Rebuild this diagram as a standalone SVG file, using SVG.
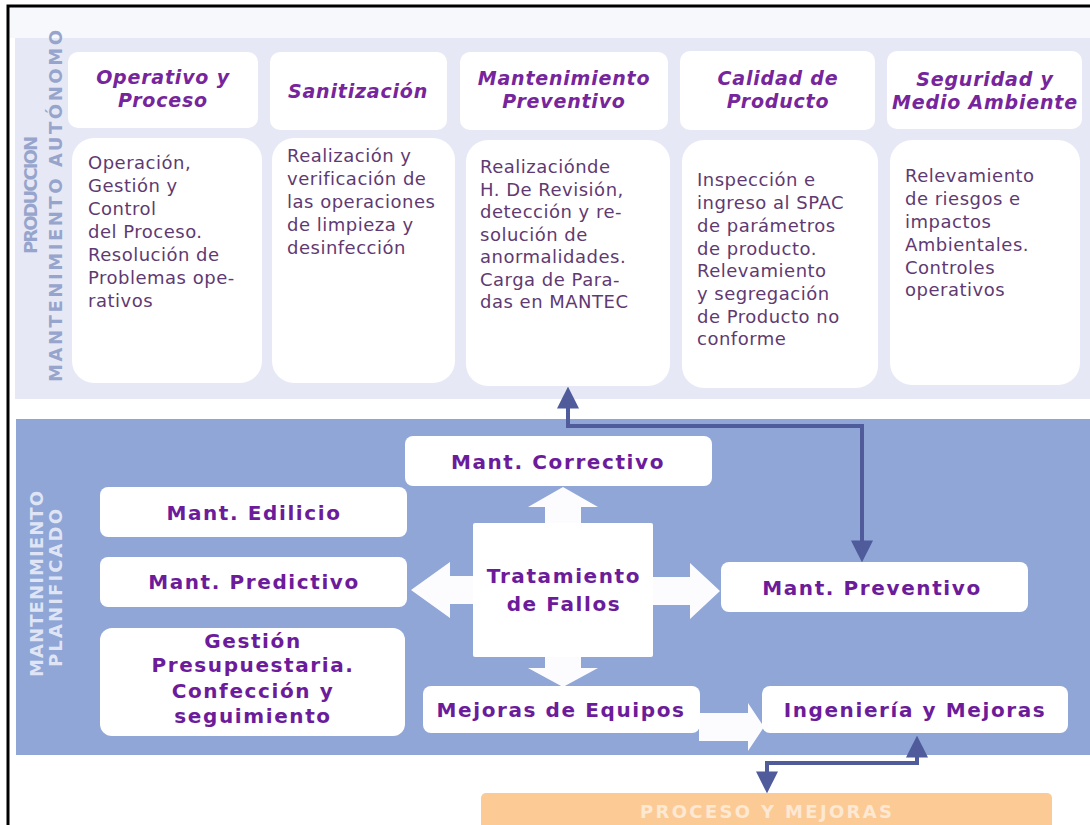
<svg xmlns="http://www.w3.org/2000/svg" width="1090" height="825" viewBox="0 0 1090 825">
<defs>
<style>
.card{fill:#ffffff}
.ht{font-family:"DejaVu Sans",Verdana,sans-serif;font-weight:bold;font-style:italic;font-size:19px;fill:#76259c;text-anchor:middle;letter-spacing:0.8px}
.bt{font-family:"DejaVu Sans",Verdana,sans-serif;font-size:18px;fill:#5f3a72;letter-spacing:0.5px}
.bl{font-family:"DejaVu Sans",Verdana,sans-serif;font-weight:bold;font-size:20px;fill:#6c1c9a;text-anchor:middle;letter-spacing:1.6px}
.vt{font-family:"DejaVu Sans",Verdana,sans-serif;font-weight:bold;font-size:18px;text-anchor:middle}
.conn{fill:none;stroke:#4f5b9b;stroke-width:4;marker-start:url(#ah);marker-end:url(#ah)}
.wa{fill:#fcfcff}
</style>
<marker id="ah" viewBox="0 0 10 10" refX="8" refY="5" markerWidth="5.5" markerHeight="5.5" orient="auto-start-reverse" markerUnits="strokeWidth">
<path d="M0,0 L10,5 L0,10 z" fill="#4f5b9b"/>
</marker>
</defs>

<rect x="0" y="0" width="1090" height="825" fill="#ffffff"/>
<rect x="9" y="7" width="1081" height="31" fill="#f7f8fc"/>
<rect x="15" y="38" width="1075" height="361" fill="#e6e9f5"/>
<rect x="16" y="419" width="1074" height="336" fill="#8fa6d6"/>
<path d="M8 825 V6 H1090" fill="none" stroke="#000" stroke-width="3"/>

<g id="label-produccion">
<text class="vt" fill="#97a4cc" font-size="19" transform="translate(37,195) rotate(-90)" textLength="118" lengthAdjust="spacing">PRODUCCION</text>
<text class="vt" fill="#97a4cc" font-size="19" transform="translate(62,206) rotate(-90)" textLength="352" lengthAdjust="spacing">MANTENIMIENTO AUTÓNOMO</text>
</g>
<g id="label-planificado">
<text class="vt" fill="#dfe5f5" font-size="18" transform="translate(43,584) rotate(-90)" textLength="186" lengthAdjust="spacing">MANTENIMIENTO</text>
<text class="vt" fill="#dfe5f5" font-size="18" transform="translate(62,588) rotate(-90)" textLength="158" lengthAdjust="spacing">PLANIFICADO</text>
</g>

<g id="h-operativo">
<rect class="card" x="68" y="52" width="190" height="76" rx="10"/>
<text class="ht" x="163" y="84">Operativo y</text>
<text class="ht" x="163" y="107">Proceso</text>
</g>
<g id="h-sanitizacion">
<rect class="card" x="270" y="52" width="177" height="78" rx="10"/>
<text class="ht" x="358" y="98">Sanitización</text>
</g>
<g id="h-mantprev">
<rect class="card" x="460" y="52" width="208" height="78" rx="10"/>
<text class="ht" x="564" y="85">Mantenimiento</text>
<text class="ht" x="564" y="108">Preventivo</text>
</g>
<g id="h-calidad">
<rect class="card" x="680" y="51" width="195" height="79" rx="10"/>
<text class="ht" x="778" y="85">Calidad de</text>
<text class="ht" x="778" y="108">Producto</text>
</g>
<g id="h-seguridad">
<rect class="card" x="887" y="51" width="195" height="78" rx="10"/>
<text class="ht" x="985" y="86">Seguridad y</text>
<text class="ht" x="985" y="109">Medio Ambiente</text>
</g>

<g id="c-operativo">
<rect class="card" x="72" y="138" width="190" height="245" rx="22"/>
<text class="bt" x="88" y="169">Operación,</text>
<text class="bt" x="88" y="192">Gestión y</text>
<text class="bt" x="88" y="215">Control</text>
<text class="bt" x="88" y="238">del Proceso.</text>
<text class="bt" x="88" y="261">Resolución de</text>
<text class="bt" x="88" y="284">Problemas ope-</text>
<text class="bt" x="88" y="307">rativos</text>
</g>
<g id="c-sanitizacion">
<rect class="card" x="272" y="138" width="183" height="245" rx="22"/>
<text class="bt" x="287" y="162">Realización y</text>
<text class="bt" x="287" y="185">verificación de</text>
<text class="bt" x="287" y="208">las operaciones</text>
<text class="bt" x="287" y="231">de limpieza y</text>
<text class="bt" x="287" y="254">desinfección</text>
</g>
<g id="c-mantprev">
<rect class="card" x="466" y="140" width="204" height="246" rx="22"/>
<text class="bt" x="480" y="173">Realizaciónde</text>
<text class="bt" x="480" y="196">H. De Revisión,</text>
<text class="bt" x="480" y="218">detección y re-</text>
<text class="bt" x="480" y="241">solución de</text>
<text class="bt" x="480" y="263">anormalidades.</text>
<text class="bt" x="480" y="286">Carga de Para-</text>
<text class="bt" x="480" y="308">das en MANTEC</text>
</g>
<g id="c-calidad">
<rect class="card" x="682" y="140" width="196" height="248" rx="22"/>
<text class="bt" x="697" y="186">Inspección e</text>
<text class="bt" x="697" y="209">ingreso al SPAC</text>
<text class="bt" x="697" y="232">de parámetros</text>
<text class="bt" x="697" y="255">de producto.</text>
<text class="bt" x="697" y="277">Relevamiento</text>
<text class="bt" x="697" y="300">y segregación</text>
<text class="bt" x="697" y="323">de Producto no</text>
<text class="bt" x="697" y="345">conforme</text>
</g>
<g id="c-seguridad">
<rect class="card" x="890" y="140" width="190" height="245" rx="22"/>
<text class="bt" x="905" y="182">Relevamiento</text>
<text class="bt" x="905" y="205">de riesgos e</text>
<text class="bt" x="905" y="228">impactos</text>
<text class="bt" x="905" y="251">Ambientales.</text>
<text class="bt" x="905" y="274">Controles</text>
<text class="bt" x="905" y="296">operativos</text>
</g>

<g id="white-arrows">
<polygon class="wa" points="545,524 545,507 528,507 563,487 598,507 581,507 581,524"/>
<polygon class="wa" points="545,656 545,668 528,668 563,687 598,668 581,668 581,656"/>
<polygon class="wa" points="474,576 450,576 450,562 411,590 450,618 450,604 474,604"/>
<polygon class="wa" points="652,577 690,577 690,563 720,591 690,619 690,605 652,605"/>
<polygon class="wa" points="699,713 748,713 748,703 764,727 748,751 748,741 699,741"/>
</g>

<g id="n-correctivo">
<rect class="card" x="405" y="436" width="307" height="50" rx="8"/>
<text class="bl" x="558" y="469">Mant. Correctivo</text>
</g>
<g id="n-edilicio">
<rect class="card" x="100" y="487" width="307" height="50" rx="8"/>
<text class="bl" x="254" y="520">Mant. Edilicio</text>
</g>
<g id="n-predictivo">
<rect class="card" x="100" y="557" width="307" height="50" rx="8"/>
<text class="bl" x="254" y="589">Mant. Predictivo</text>
</g>
<g id="n-gestion">
<rect class="card" x="100" y="628" width="305" height="108" rx="12"/>
<text class="bl" x="253" y="648">Gestión</text>
<text class="bl" x="253" y="672">Presupuestaria.</text>
<text class="bl" x="253" y="698">Confección y</text>
<text class="bl" x="253" y="723">seguimiento</text>
</g>
<g id="n-tratamiento">
<rect class="card" x="473" y="523" width="180" height="134" rx="2"/>
<text class="bl" x="564" y="583" font-size="22">Tratamiento</text>
<text class="bl" x="564" y="611" font-size="22">de Fallos</text>
</g>
<g id="n-preventivo">
<rect class="card" x="721" y="562" width="307" height="50" rx="8"/>
<text class="bl" x="872" y="595">Mant. Preventivo</text>
</g>
<g id="n-mejoras">
<rect class="card" x="423" y="686" width="277" height="47" rx="8"/>
<text class="bl" x="561" y="717">Mejoras de Equipos</text>
</g>
<g id="n-ingenieria">
<rect class="card" x="762" y="686" width="306" height="47" rx="8"/>
<text class="bl" x="915" y="717">Ingeniería y Mejoras</text>
</g>
<g id="n-proceso">
<rect x="481" y="793" width="571" height="40" rx="5" fill="#fccb95"/>
<text class="vt" x="766" y="818" fill="#fde8d3" textLength="252" lengthAdjust="spacing">PROCESO Y MEJORAS</text>
</g>

<g id="connectors">
<path class="conn" d="M862 558 V426 H568 V391"/>
<path class="conn" d="M917 740 V763 H767 V789"/>
</g>
</svg>
